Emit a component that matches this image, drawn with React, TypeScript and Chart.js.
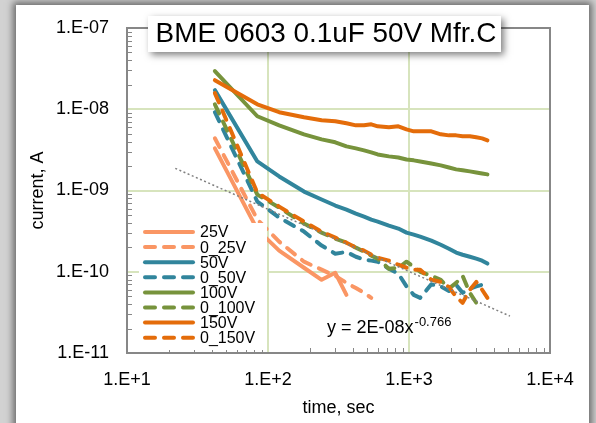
import React, { useEffect, useRef } from "react";
import { Chart, registerables } from "chart.js";
Chart.register(...registerables);

const FONT = '"Liberation Sans", Arial, Helvetica, sans-serif';

// time points (s)
const TIMES = [42, 84, 120, 180, 240, 300, 360, 420, 480, 540, 600, 720, 840, 960, 1080, 1200, 1440, 1680, 1920, 2160, 2400, 2700, 3000, 3300, 3600];

// currents (A)
const I_25V = [3.3e-9, 3.3e-10, 1.82e-10, 1.12e-10, 7.96e-11, 9.7e-11, 5.2e-11];
const I_0_25V = [4.4e-9, 4.4e-10, 2.35e-10, 1.33e-10, 1.06e-10, 8.9e-11, 7.3e-11, 6.3e-11, 5.5e-11, 4.77e-11];
const I_50V = [1.72e-8, 2.28e-9, 1.49e-9, 9.7e-10, 7.75e-10, 6.53e-10, 5.82e-10, 5.2e-10, 4.77e-10, 4.38e-10, 4.14e-10, 3.7e-10, 3.4e-10, 3.03e-10, 2.86e-10, 2.7e-10, 2.41e-10, 2.15e-10, 1.92e-10, 1.72e-10, 1.62e-10, 1.53e-10, 1.45e-10, 1.37e-10, 1.26e-10];
const I_0_50V = [9.2e-9, 7.3e-10, 4.64e-10, 3.12e-10, 2.1e-10, 1.67e-10, 1.75e-10, 1.53e-10, 1.41e-10, 1.37e-10, 1.33e-10, 1.09e-10, 9.5e-11, 6.6e-11, 5.2e-11, 4.77e-11, 7.0e-11, 6.6e-11, 5.8e-11, 6.9e-11, 5.5e-11, 6.2e-11, 6.6e-11, 6.9e-11, 7.3e-11];
const I_100V = [2.95e-8, 8.2e-9, 6.34e-9, 4.91e-9, 4.26e-9, 3.92e-9, 3.49e-9, 3.3e-9, 3.12e-9, 2.95e-9, 2.78e-9, 2.63e-9, 2.55e-9, 2.41e-9, 2.35e-9, 2.28e-9, 2.15e-9, 2.04e-9, 1.92e-9, 1.82e-9, 1.77e-9, 1.72e-9, 1.67e-9, 1.62e-9, 1.58e-9];
const I_0_100V = [1.15e-8, 8.9e-10, 6.16e-10, 3.92e-10, 3.03e-10, 2.55e-10, 2.28e-10, 1.98e-10, 1.77e-10, 1.58e-10, 1.45e-10, 1.09e-10, 1.12e-10, 1.33e-10, 1.15e-10, 1.0e-10, 8.9e-11, 7.96e-11, 6.2e-11, 7.3e-11, 8.9e-11, 5.5e-11, 4.14e-11, 3.7e-11];
const I_150V = [2.28e-8, 1.15e-8, 9.2e-9, 7.96e-9, 7.31e-9, 7.11e-9, 6.72e-9, 6.34e-9, 6.34e-9, 6.53e-9, 6.16e-9, 6.0e-9, 6.16e-9, 5.66e-9, 5.35e-9, 5.35e-9, 5.35e-9, 4.91e-9, 4.77e-9, 4.77e-9, 4.64e-9, 4.64e-9, 4.51e-9, 4.38e-9, 4.14e-9];
const I_0_150V = [1.58e-8, 9.4e-10, 6.34e-10, 4.14e-10, 3.12e-10, 2.63e-10, 2.28e-10, 1.98e-10, 1.82e-10, 1.62e-10, 1.49e-10, 1.37e-10, 1.22e-10, 1.12e-10, 1.06e-10, 1.06e-10, 7.96e-11, 7.5e-11, 6.5e-11, 4.91e-11, 4.14e-11, 6.0e-11, 7.5e-11, 6.0e-11, 4.77e-11];

const SERIES_NAMES = ["25V", "0_25V", "50V", "0_50V", "100V", "0_100V", "150V", "0_150V"];
const SERIES_VALUES = [I_25V, I_0_25V, I_50V, I_0_50V, I_100V, I_0_100V, I_150V, I_0_150V];
const SERIES_COLORS = ["#FA9664", "#FA9664", "#31859C", "#31859C", "#77933C", "#77933C", "#E46C0A", "#E46C0A"];
const SERIES_DASHED = [false, true, false, true, false, true, false, true];

// power-law trendline y = 2E-08 x^-0.766
const TREND_COEF = 2e-8;
const TREND_EXP = -0.766;
const TREND_RANGE = [22, 5200];

const X_MIN = 10, X_MAX = 10000;
const Y_MIN = 1e-11, Y_MAX = 1e-7;

const TITLE = "BME 0603 0.1uF 50V Mfr.C";
const X_TITLE = "time, sec";
const Y_TITLE = "current, A";
const EQ_TEXT = "y = 2E-08x";
const EQ_EXP = "-0.766";

const GRID = "#D7E4BD";
const AXIS = "#878787";
const DASH = [10, 9];

function isPow10(v: number) {
  if (!(v > 0)) return false;
  const l = Math.log10(v);
  return Math.abs(l - Math.round(l)) < 1e-6;
}

export default function App() {
  const ref = useRef<HTMLCanvasElement>(null);

  useEffect(() => {
    const canvas = ref.current as HTMLCanvasElement;
    const n = SERIES_NAMES.length;
    const datasets: any[] = SERIES_NAMES.map((name, i) => ({
      label: name,
      data: SERIES_VALUES[i].map((v, k) => ({ x: TIMES[k], y: v })),
      borderColor: SERIES_COLORS[i],
      backgroundColor: SERIES_COLORS[i],
      borderWidth: 4,
      borderDash: SERIES_DASHED[i] ? DASH : [],
      borderCapStyle: "round",
      borderJoinStyle: "round",
      pointRadius: 0,
      tension: 0,
      fill: false,
      order: n - i + 1,
    }));
    datasets.push({
      label: "trend",
      data: TREND_RANGE.map((t) => ({ x: t, y: TREND_COEF * Math.pow(t, TREND_EXP) })),
      borderColor: "#808080",
      borderWidth: 1.5,
      borderDash: [2, 2.5],
      pointRadius: 0,
      fill: false,
      order: 0,
    });

    const decor = {
      id: "decor",
      beforeDatasetsDraw(chart: any) {
        const { ctx, chartArea } = chart;
        const { left, right, top, bottom } = chartArea;
        const xs = chart.scales.x;
        const ys = chart.scales.y;
        ctx.save();
        ctx.strokeStyle = AXIS;
        ctx.lineWidth = 1;
        for (let e = -11; e < -7; e++) {
          for (let k = 2; k <= 9; k++) {
            const py = Math.round(ys.getPixelForValue(k * Math.pow(10, e))) + 0.5;
            ctx.beginPath();
            ctx.moveTo(left, py);
            ctx.lineTo(left + 5, py);
            ctx.stroke();
          }
        }
        for (let e = 1; e < 4; e++) {
          for (let k = 2; k <= 9; k++) {
            const px = Math.round(xs.getPixelForValue(k * Math.pow(10, e))) + 0.5;
            ctx.beginPath();
            ctx.moveTo(px, bottom);
            ctx.lineTo(px, bottom - 5);
            ctx.stroke();
          }
        }
        ctx.lineWidth = 2;
        ctx.strokeRect(left, top, right - left, bottom - top);
        ctx.restore();
      },
      afterDatasetsDraw(chart: any) {
        const { ctx } = chart;
        ctx.save();
        // legend
        ctx.fillStyle = "#ffffff";
        ctx.fillRect(139, 223, 128, 127);
        const ly0 = 232;
        const ldy = 15.1;
        SERIES_NAMES.forEach((name, i) => {
          const y = ly0 + i * ldy;
          ctx.strokeStyle = SERIES_COLORS[i];
          ctx.lineWidth = 4;
          ctx.lineCap = "round";
          ctx.setLineDash(SERIES_DASHED[i] ? DASH : []);
          ctx.beginPath();
          ctx.moveTo(145, y);
          ctx.lineTo(193, y);
          ctx.stroke();
          ctx.setLineDash([]);
          ctx.fillStyle = "#000";
          ctx.font = `16px ${FONT}`;
          ctx.textBaseline = "middle";
          ctx.textAlign = "left";
          ctx.fillText(name, 200, y + 1);
        });
        // equation
        ctx.fillStyle = "#000";
        ctx.textBaseline = "alphabetic";
        ctx.font = `18px ${FONT}`;
        ctx.fillText(EQ_TEXT, 327, 333);
        const w = ctx.measureText(EQ_TEXT).width;
        ctx.font = `13px ${FONT}`;
        ctx.fillText(EQ_EXP, 327 + w + 1, 326);
        // title box
        ctx.save();
        ctx.shadowColor = "rgba(0,0,0,0.5)";
        ctx.shadowBlur = 7;
        ctx.shadowOffsetX = 3;
        ctx.shadowOffsetY = 3;
        ctx.fillStyle = "#fff";
        ctx.fillRect(148, 16, 353, 36);
        ctx.restore();
        ctx.font = `28px ${FONT}`;
        const tw = ctx.measureText(TITLE).width;
        const size = Math.min(28, (28 * 341) / tw);
        ctx.font = `${size}px ${FONT}`;
        ctx.fillStyle = "#000";
        ctx.textAlign = "center";
        ctx.textBaseline = "middle";
        ctx.fillText(TITLE, 326, 34);
        ctx.restore();
      },
    };

    const gridColor = (c: any) => (c.tick && isPow10(c.tick.value) ? GRID : "rgba(0,0,0,0)");

    const chart = new Chart(canvas, {
      type: "line",
      data: { datasets },
      options: {
        animation: false,
        responsive: false,
        devicePixelRatio: 1,
        layout: { padding: { left: 0, top: 28, right: 46, bottom: 0 } },
        plugins: { legend: { display: false }, tooltip: { enabled: false }, title: { display: false } },
        scales: {
          x: {
            type: "logarithmic",
            position: "bottom",
            min: X_MIN,
            max: X_MAX,
            border: { display: false },
            grid: { color: gridColor, lineWidth: 2, drawTicks: false },
            ticks: {
              autoSkip: false,
              maxRotation: 0,
              minRotation: 0,
              padding: 16,
              color: "#000",
              font: { family: FONT, size: 18 },
              callback: (v: any) => (isPow10(Number(v)) ? "1.E+" + Math.round(Math.log10(Number(v))) : ""),
            },
            title: { display: true, text: X_TITLE, color: "#000", font: { family: FONT, size: 18 }, padding: { top: 0, bottom: 4 } },
            afterFit: (s: any) => {
              s.height = 70;
              s.paddingLeft = 0;
              s.paddingRight = 0;
            },
          },
          y: {
            type: "logarithmic",
            position: "left",
            min: Y_MIN,
            max: Y_MAX,
            border: { display: false },
            grid: { color: gridColor, lineWidth: 2, drawTicks: false },
            ticks: {
              autoSkip: false,
              padding: 18,
              color: "#000",
              font: { family: FONT, size: 18 },
              callback: (v: any) => {
                const val = Number(v);
                if (!isPow10(val)) return "";
                const e = Math.round(Math.log10(val));
                return "1.E" + (e < 0 ? "-" : "+") + String(Math.abs(e)).padStart(2, "0");
              },
            },
            title: { display: true, text: Y_TITLE, color: "#000", font: { family: FONT, size: 18 }, padding: { top: 27, bottom: 0 } },
            afterFit: (s: any) => {
              s.width = 127;
              s.paddingTop = 0;
              s.paddingBottom = 0;
            },
          },
        },
      } as any,
      plugins: [decor],
    });
    return () => chart.destroy();
  }, []);

  return (
    <div style={{ position: "fixed", left: 0, top: 0, width: 596, height: 423, background: "#d2d2d2", overflow: "hidden" }}>
      <div
        style={{
          position: "absolute",
          left: 16,
          top: 5,
          width: 573,
          height: 440,
          background: "#fff",
          boxShadow: "0 0 7px 3px rgba(0,0,0,0.5)",
        }}
      />
      <canvas ref={ref} width={596} height={423} style={{ position: "absolute", left: 0, top: 0, width: 596, height: 423 }} />
    </div>
  );
}
